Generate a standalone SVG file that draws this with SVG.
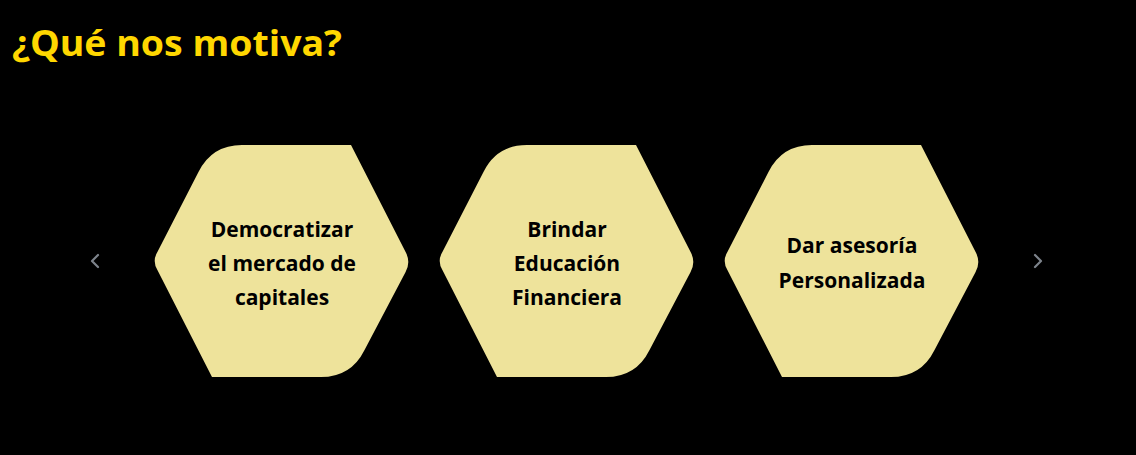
<svg xmlns="http://www.w3.org/2000/svg" xmlns:xlink="http://www.w3.org/1999/xlink" width="1136" height="455" viewBox="0 0 1136 455">
<style>
.hex{fill:#EEE39B}
.lbl{font-family:"Open Sans","Noto Sans","Liberation Sans",sans-serif;font-weight:700;font-size:21px;fill:#000;text-anchor:middle}
.title{font-family:"Open Sans","Noto Sans","Liberation Sans",sans-serif;font-weight:700;font-size:35px;fill:#FFD700}
.chev{fill:none;stroke:#7d838b;stroke-width:2.2;stroke-linecap:round;stroke-linejoin:round}
</style>
<defs>
<path id="hexshape" d="M44.6,26.8 Q58,0 88,0 L197,0 L251.6,107 Q257,117 251.6,127 L210.4,205.2 Q197,232 167,232 L58,232 L3.4,125 Q-2,116 3.4,107 Z"/>
</defs>
<rect width="1136" height="455" fill="#000"/>
<text class="title" x="12" y="56" textLength="330" lengthAdjust="spacingAndGlyphs">¿Qué nos motiva?</text>
<g id="nav-prev"><path class="chev" d="M98,255 L92,261 L98,267"/></g>
<g id="nav-next"><path class="chev" d="M1035,255 L1041,261 L1035,267"/></g>
<g id="connectors"></g>
<g id="node1">
<use xlink:href="#hexshape" class="hex" transform="translate(154,145)"/>
<text class="lbl" x="282" y="237">Democratizar</text>
<text class="lbl" x="282" y="271">el mercado de</text>
<text class="lbl" x="282" y="305">capitales</text>
</g>
<g id="node2">
<use xlink:href="#hexshape" class="hex" transform="translate(439,145)"/>
<text class="lbl" x="567" y="237">Brindar</text>
<text class="lbl" x="567" y="271">Educación</text>
<text class="lbl" x="567" y="305">Financiera</text>
</g>
<g id="node3">
<use xlink:href="#hexshape" class="hex" transform="translate(724,145)"/>
<text class="lbl" x="852" y="253">Dar asesoría</text>
<text class="lbl" x="852" y="288">Personalizada</text>
</g>
</svg>
